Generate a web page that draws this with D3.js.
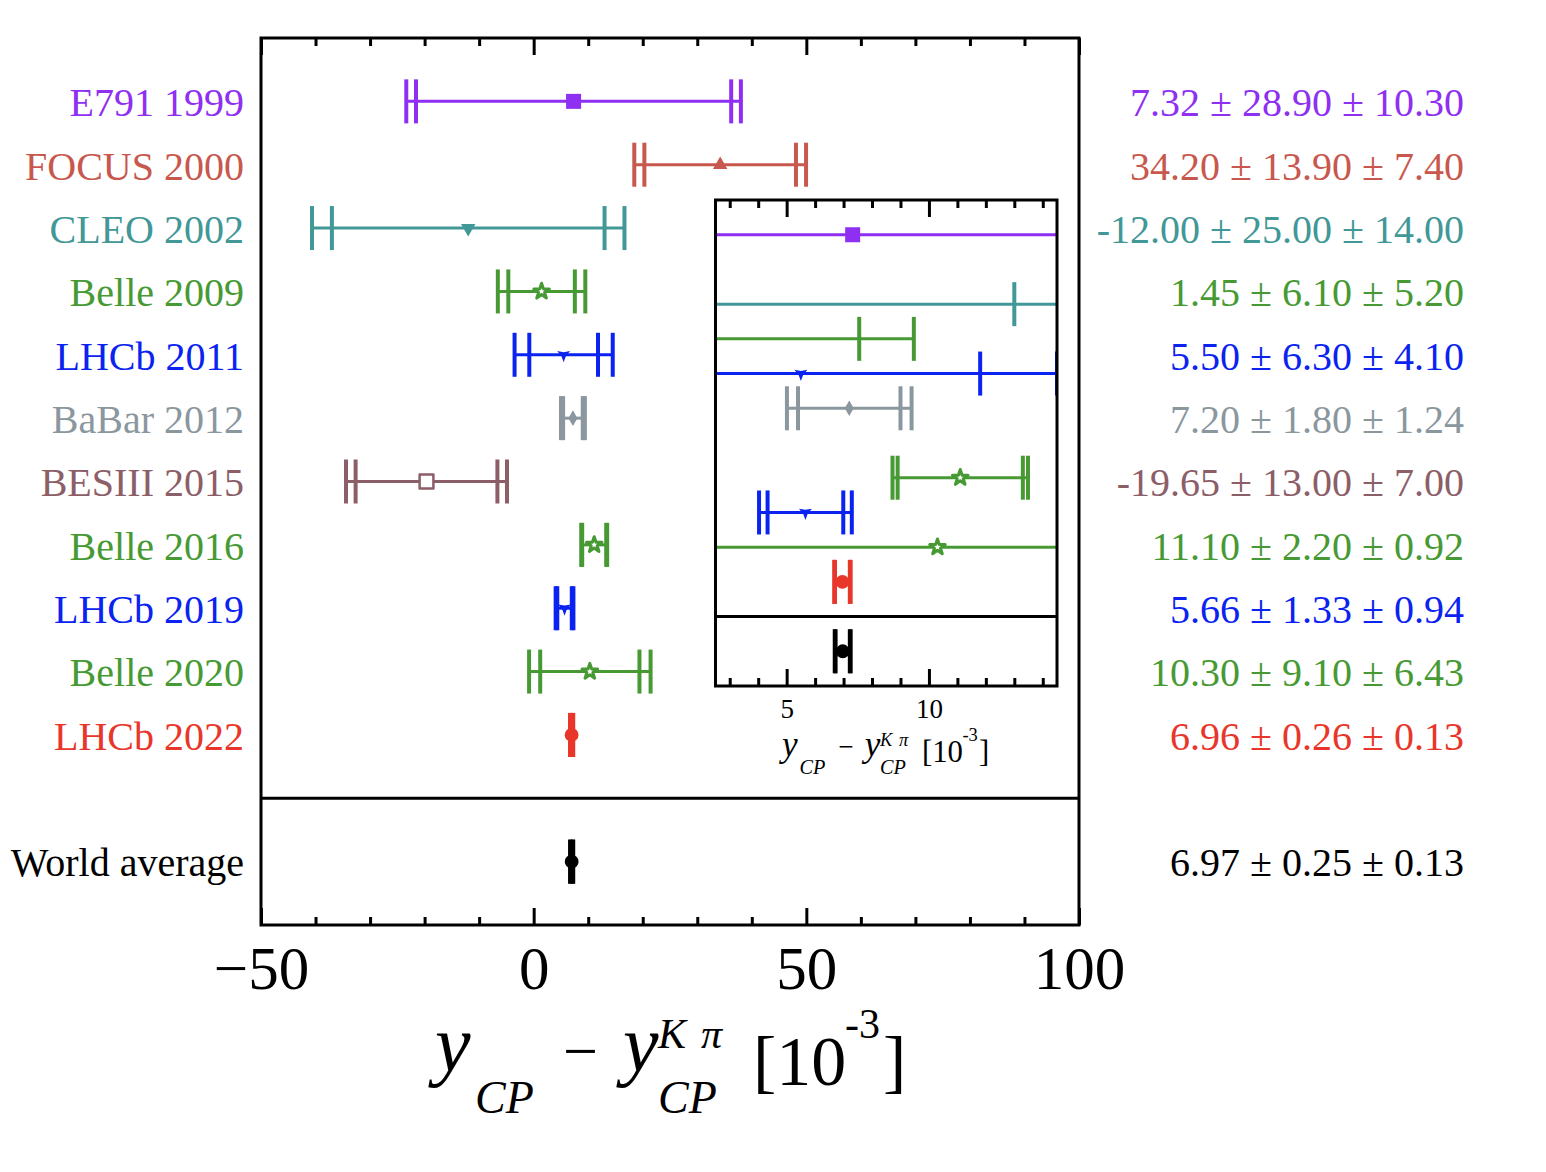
<!doctype html>
<html>
<head>
    <meta charset="utf-8">
    <title> yCP - yCP(Kpi) world average </title>
    <script src="https://cdn.jsdelivr.net/npm/d3@7"></script>
    <style>
        body { margin: 0; background: #fff; }
        text { font-family: "Liberation Serif", "Times New Roman", serif; }
    </style>
</head>
<body>
<script>
    // measurements, all in units of 1e-3
    var experiments = ["E791 1999", "FOCUS 2000", "CLEO 2002", "Belle 2009", "LHCb 2011", "BaBar 2012",
                       "BESIII 2015", "Belle 2016", "LHCb 2019", "Belle 2020", "LHCb 2022"];
    var central = [7.32, 34.20, -12.00, 1.45, 5.50, 7.20, -19.65, 11.10, 5.66, 10.30, 6.96];
    var statErr = [28.90, 13.90, 25.00, 6.10, 6.30, 1.80, 13.00, 2.20, 1.33, 9.10, 0.26];
    var systErr = [10.30, 7.40, 14.00, 5.20, 4.10, 1.24, 7.00, 0.92, 0.94, 6.43, 0.13];
    // outer caps, as they are drawn in the figure
    var totalErr = [30.68, 15.75, 28.65, 8.02, 9.00, 2.19, 14.76, 2.38, 1.63, 11.14, 0.29];
    var colors = ["#8e2ff2", "#c8584e", "#429797", "#479a33", "#0b23f0", "#8b979e",
                  "#8c5e67", "#479a33", "#0b23f0", "#479a33", "#e9362b"];
    var markers = ["square", "triangleUp", "triangleDown", "openStar", "wye", "diamond",
                   "openSquare", "openStar", "wye", "openStar", "circle"];

    var avgName = "World average";
    var avgCentral = 6.97, avgStat = 0.25, avgSyst = 0.13, avgTotal = 0.28;

    var mainMajor = [-50, 0, 50, 100];
    var mainMinor = [-40, -30, -20, -10, 10, 20, 30, 40, 60, 70, 80, 90];
    var insetMajor = [5, 10];
    var insetMinor = [3, 4, 6, 7, 8, 9, 11, 12, 13, 14];

    // rows 0..10 are the measurements, row 12 is the average (row 11 is the divider)
    var rows = experiments.map(function(name, i) {
        return {name: name, row: i, c: central[i], stat: statErr[i], syst: systErr[i],
                tot: totalErr[i], color: colors[i], marker: markers[i]};
    });
    rows.push({name: avgName, row: 12, c: avgCentral, stat: avgStat, syst: avgSyst,
               tot: avgTotal, color: "#000", marker: "circle"});

    var svg = d3.select("body").append("svg")
        .attr("width", 1546)
        .attr("height", 1172);

    var xMain = d3.scaleLinear().domain([-50, 100]).range([261, 1079]);
    var yMain = d3.scaleLinear().domain([-1, 13]).range([38, 925]);
    var xIns = d3.scaleLinear().domain([2.5, 14.5]).range([715.5, 1057]);
    var yIns = d3.scaleLinear().domain([-1, 13]).range([200, 686]);

    // 3 pointed star used for LHCb
    function wyePath(r) {
        var pts = [];
        for (var k = 0; k < 6; k++) {
            var a = (90 + k * 60) * Math.PI / 180;
            var rr = (k % 2 == 0) ? r : r * 0.35;
            pts.push([rr * Math.cos(a), rr * Math.sin(a)]);
        }
        return "M" + pts.join("L") + "Z";
    }

    function drawMarker(g, d) {
        var p;
        if (d.marker == "square") p = d3.symbol(d3.symbolSquare, 225)();
        else if (d.marker == "openSquare") p = d3.symbol(d3.symbolSquare, 190)();
        else if (d.marker == "triangleUp" || d.marker == "triangleDown") p = d3.symbol(d3.symbolTriangle, 90)();
        else if (d.marker == "diamond") p = d3.symbol(d3.symbolDiamond, 70)();
        else if (d.marker == "openStar") p = d3.symbol(d3.symbolStar, 75)();
        else if (d.marker == "circle") p = d3.symbol(d3.symbolCircle, 150)();
        else p = wyePath(7.5);
        var open = d.marker == "openSquare" || d.marker == "openStar";
        g.append("path")
            .attr("d", p)
            .attr("transform", d.marker == "triangleDown" ? "rotate(180)" : null)
            .style("fill", open ? "#fff" : d.color)
            .style("stroke", open ? d.color : "none")
            .style("stroke-width", d.marker == "openStar" ? 3 : (open ? 2.5 : 0))
            .style("stroke-linejoin", "round");
    }

    function drawPanel(g, x, y, clip) {
        var x0 = x.domain()[0], x1 = x.domain()[1];
        var inner = g.append("g").attr("clip-path", clip ? "url(#" + clip + ")" : null);
        var row = inner.selectAll("g.row")
            .data(rows)
            .enter()
            .append("g")
            .attr("class", "row");
        // horizontal bar over the total error
        row.append("line")
            .attr("x1", function(d) { return x(Math.max(x0 - 1, d.c - d.tot)); })
            .attr("x2", function(d) { return x(Math.min(x1 + 1, d.c + d.tot)); })
            .attr("y1", function(d) { return y(d.row); })
            .attr("y2", function(d) { return y(d.row); })
            .style("stroke", function(d) { return d.color; })
            .style("stroke-width", 3);
        // caps: inner = stat, outer = total
        row.each(function(d) {
            var gg = d3.select(this);
            [d.c - d.tot, d.c - d.stat, d.c + d.stat, d.c + d.tot].forEach(function(v) {
                var vv = Math.min(Math.max(v, x0), x1);
                if (v < x0 - 0.3 * (x1 - x0) / 100 || v > x1 + 0.3 * (x1 - x0) / 100) return;
                gg.append("line")
                    .attr("x1", x(vv)).attr("x2", x(vv))
                    .attr("y1", y(d.row) - 22).attr("y2", y(d.row) + 22)
                    .style("stroke", d.color)
                    .style("stroke-width", 4);
            });
            var m = gg.append("g").attr("transform", "translate(" + x(d.c) + "," + y(d.row) + ")");
            drawMarker(m, d);
        });
    }

    function frameAxes(g, x, y, major, minor, bigLen, smallLen) {
        var top = y.range()[0], bottom = y.range()[1];
        g.append("g").attr("transform", "translate(0," + bottom + ")")
            .call(d3.axisBottom(x).tickValues(minor).tickSize(-smallLen).tickFormat(""));
        g.append("g").attr("transform", "translate(0," + top + ")")
            .call(d3.axisTop(x).tickValues(minor).tickSize(-smallLen).tickFormat(""));
        g.append("g").attr("transform", "translate(0," + top + ")")
            .call(d3.axisTop(x).tickValues(major).tickSize(-bigLen).tickFormat(""));
        g.selectAll(".domain").remove();
        g.selectAll(".tick line").style("stroke", "#000").style("stroke-width", 3);
        // frame and divider
        g.append("rect")
            .attr("x", x.range()[0]).attr("y", top)
            .attr("width", x.range()[1] - x.range()[0]).attr("height", bottom - top)
            .style("fill", "none").style("stroke", "#000").style("stroke-width", 3);
        g.append("line")
            .attr("x1", x.range()[0]).attr("x2", x.range()[1])
            .attr("y1", y(11)).attr("y2", y(11))
            .style("stroke", "#000").style("stroke-width", 3);
    }

    function axisTitle(g, x0, y0, s) {
        var pieces = [
            {t: "y", dx: 0, dy: 0, size: 80, it: true},
            {t: "CP", dx: 40, dy: 42, size: 46, it: true},
            {t: "\u2212", dx: 128, dy: 1, size: 62, it: false},
            {t: "y", dx: 188, dy: 0, size: 80, it: true},
            {t: "K", dx: 223, dy: -23, size: 42, it: true},
            {t: "\u03c0", dx: 266, dy: -23, size: 42, it: true},
            {t: "CP", dx: 223, dy: 42, size: 46, it: true},
            {t: "[10", dx: 318, dy: 14, size: 70, it: false},
            {t: "-3", dx: 410, dy: -33, size: 42, it: false},
            {t: "]", dx: 448, dy: 14, size: 70, it: false}
        ];
        g.selectAll(null).data(pieces).enter().append("text")
            .attr("x", function(d) { return x0 + d.dx * s; })
            .attr("y", function(d) { return y0 + d.dy * s; })
            .style("font-size", function(d) { return (d.size * s) + "px"; })
            .style("font-style", function(d) { return d.it ? "italic" : "normal"; })
            .style("fill", "#000")
            .text(function(d) { return d.t; });
    }

    // ---- main panel
    var main = svg.append("g");
    drawPanel(main, xMain, yMain, null);
    frameAxes(main, xMain, yMain, mainMajor, mainMinor, 17, 8);
    var xAxis = main.append("g").attr("transform", "translate(0," + yMain.range()[1] + ")")
        .call(d3.axisBottom(xMain).tickValues(mainMajor).tickSize(-17).tickPadding(21));
    xAxis.select(".domain").remove();
    xAxis.selectAll(".tick line").style("stroke", "#000").style("stroke-width", 3);
    xAxis.selectAll("text")
        .style("font-family", "'Liberation Serif', serif")
        .style("font-size", "61px")
        .style("fill", "#000");

    // labels left and right
    svg.selectAll("text.name").data(rows).enter().append("text")
        .attr("class", "name")
        .attr("x", 244)
        .attr("y", function(d) { return yMain(d.row); })
        .attr("dy", "0.37em")
        .attr("text-anchor", "end")
        .style("font-size", "40px")
        .style("fill", function(d) { return d.color; })
        .text(function(d) { return d.name; });
    svg.selectAll("text.val").data(rows).enter().append("text")
        .attr("class", "val")
        .attr("x", 1464)
        .attr("y", function(d) { return yMain(d.row); })
        .attr("dy", "0.37em")
        .attr("text-anchor", "end")
        .style("font-size", "40px")
        .style("fill", function(d) { return d.color; })
        .text(function(d) { return d.c.toFixed(2) + " \u00b1 " + d.stat.toFixed(2) + " \u00b1 " + d.syst.toFixed(2); });

    axisTitle(svg, 435, 1071, 1);

    // ---- inset (zoom on the region around the average)
    svg.append("defs").append("clipPath").attr("id", "insclip")
        .append("rect")
        .attr("x", xIns.range()[0]).attr("y", yIns.range()[0])
        .attr("width", xIns.range()[1] - xIns.range()[0])
        .attr("height", yIns.range()[1] - yIns.range()[0]);
    var ins = svg.append("g");
    ins.append("rect")
        .attr("x", xIns.range()[0]).attr("y", yIns.range()[0])
        .attr("width", xIns.range()[1] - xIns.range()[0])
        .attr("height", yIns.range()[1] - yIns.range()[0])
        .style("fill", "#fff");
    drawPanel(ins, xIns, yIns, "insclip");
    frameAxes(ins, xIns, yIns, insetMajor, insetMinor, 17, 8);
    var xAxisIns = ins.append("g").attr("transform", "translate(0," + yIns.range()[1] + ")")
        .call(d3.axisBottom(xIns).tickValues(insetMajor).tickSize(-17).tickPadding(13));
    xAxisIns.select(".domain").remove();
    xAxisIns.selectAll(".tick line").style("stroke", "#000").style("stroke-width", 3);
    xAxisIns.selectAll("text")
        .style("font-family", "'Liberation Serif', serif")
        .style("font-size", "27px")
        .style("fill", "#000");

    axisTitle(svg, 782, 756, 0.44);
</script>
</body>
</html>
